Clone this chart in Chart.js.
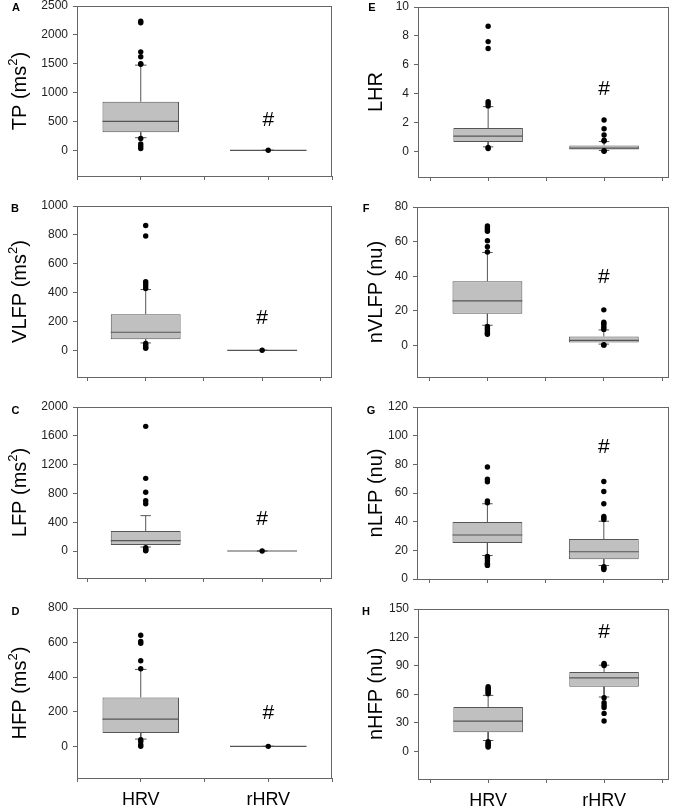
<!DOCTYPE html>
<html>
<head>
<meta charset="utf-8">
<script src="https://cdn.jsdelivr.net/npm/chart.js@4.4.0/dist/chart.umd.min.js"></script>
<style>
  body { margin: 0; background: #fff; width: 676px; height: 808px; position: relative; overflow: hidden;
         font-family: "Liberation Sans", Arial, Helvetica, sans-serif; }
  canvas { position: absolute; }
  .tag { position: absolute; width: 20px; text-align: center; font-size: 11px; line-height: 12px; font-weight: bold; color: #000; }
</style>
</head>
<body>
<script>
Chart.defaults.font.family = '"Liberation Sans", Arial, Helvetica, sans-serif';
const FONT = '"Liberation Sans", Arial, sans-serif';

const groups = ['HRV', 'rHRV'];
const groupPos = [1, 2];
const xTicks = [0.5, 1, 1.5, 2, 2.5];

// box stats per group: [lower whisker, q1, median, q3, upper whisker]
// A - TP
const tpBox = [[218, 311, 502, 841, 1476], [0, 0, 0, 0, 0]];
const tpOut = [[2237, 2210, 1706, 1620, 1500, 1490, 205, 110, 70, 30], [0]];
const tpTicks = [0, 500, 1000, 1500, 2000, 2500];
const tpRange = [-445, 2500];
const tpHash = 523;

// B - VLFP
const vlfpBox = [[51, 76, 125, 250, 421], [0, 0, 0, 0, 0]];
const vlfpOut = [[865, 792, 476, 462, 445, 428, 48, 35, 22, 14], [0]];
const vlfpTicks = [0, 200, 400, 600, 800, 1000];
const vlfpRange = [-185, 1000];
const vlfpHash = 220;

// C - LFP
const lfpBox = [[55, 83, 144, 278, 491], [0, 0, 0, 0, 0]];
const lfpOut = [[1731, 1009, 815, 699, 657, 45, 25, 10, 2], [0]];
const lfpTicks = [0, 400, 800, 1200, 1600, 2000];
const lfpRange = [-375, 2000];
const lfpHash = 435;

// D - HFP
const hfpBox = [[42, 77, 158, 283, 445], [0, 0, 0, 0, 0]];
const hfpOut = [[642, 607, 596, 495, 449, 38, 28, 10, 0], [0]];
const hfpTicks = [0, 200, 400, 600, 800];
const hfpRange = [-183, 800];
const hfpHash = 193;

// E - LHR
const lhrBox = [[0.3, 0.63, 1.05, 1.6, 3.09], [0.05, 0.12, 0.21, 0.4, 0.67]];
const lhrOut = [[8.67, 7.6, 7.12, 3.44, 3.3, 3.14, 0.26, 0.18], [2.16, 1.56, 1.12, 0.76, 0.7, 0.03, 0]];
const lhrTicks = [0, 2, 4, 6, 8, 10];
const lhrRange = [-1.79, 10];
const lhrHash = 4.3;

// F - nVLFP
const nvlfpBox = [[11.7, 18.3, 25.8, 37.1, 53.7], [0.8, 1.7, 2.9, 5.2, 9.0]];
const nvlfpOut = [[69, 68, 67, 66, 60.5, 57, 54, 11, 10, 9, 8, 7, 6.5], [20.6, 13.5, 12.8, 11.8, 10.5, 9.3, 0.5, 0.2]];
const nvlfpTicks = [0, 20, 40, 60, 80];
const nvlfpRange = [-18.2, 80];
const nvlfpHash = 39.5;

// G - nLFP
const nlfpBox = [[16.4, 25.1, 30.7, 39.7, 52.5], [9.4, 13.8, 19, 27.9, 40.3]];
const nlfpOut = [[78.1, 69.6, 67.8, 54.4, 53.2, 15.7, 14.3, 12.5, 11, 10.3, 9.5], [68, 61, 52.5, 43.6, 42.5, 41.5, 8.5, 7.5, 6.6]];
const nlfpTicks = [0, 20, 40, 60, 80, 100, 120];
const nlfpRange = [0, 120];
const nlfpHash = 91.9;

// H - nHFP
const nhfpBox = [[11.3, 20.1, 31.8, 46.6, 58.9], [57.2, 68.1, 77.3, 83.6, 90.7]];
const nhfpOut = [[68, 66.5, 65, 63.5, 62, 60.5, 10, 8.5, 7, 5.5, 4.5], [92.5, 91.5, 90.4, 56.5, 51.2, 48.4, 46, 39.9, 31.8]];
const nhfpTicks = [0, 30, 60, 90, 120, 150];
const nhfpRange = [-29.3, 150];
const nhfpHash = 125.3;

// y titles as [text, superscript, tail]
const msUnit = ['(ms', '2', ')'];

// layout of the 8 panels (frame = plot box in page px: left, top, right, bottom)
const panels = [
  { tag: 'A', title: ['TP ' + msUnit[0], msUnit[1], msUnit[2]],   box: tpBox,    out: tpOut,    ticks: tpTicks,    range: tpRange,    hash: tpHash,    col: 0, row: 0, frame: [77, 6, 332, 176],   xr: [0.5, 2.5],    tagAt: [16, 6.5] },
  { tag: 'B', title: ['VLFP ' + msUnit[0], msUnit[1], msUnit[2]], box: vlfpBox,  out: vlfpOut,  ticks: vlfpTicks,  range: vlfpRange,  hash: vlfpHash,  col: 0, row: 1, frame: [77, 206, 332, 377], xr: [0.41, 2.6],   tagAt: [15, 208] },
  { tag: 'C', title: ['LFP ' + msUnit[0], msUnit[1], msUnit[2]],  box: lfpBox,   out: lfpOut,   ticks: lfpTicks,   range: lfpRange,   hash: lfpHash,   col: 0, row: 2, frame: [77, 407, 332, 578], xr: [0.41, 2.6],   tagAt: [15.5, 410] },
  { tag: 'D', title: ['HFP ' + msUnit[0], msUnit[1], msUnit[2]],  box: hfpBox,   out: hfpOut,   ticks: hfpTicks,   range: hfpRange,   hash: hfpHash,   col: 0, row: 3, frame: [77, 608, 332, 778], xr: [0.5, 2.5],    tagAt: [15.5, 611] },
  { tag: 'E', title: ['LHR', '', ''],        box: lhrBox,   out: lhrOut,   ticks: lhrTicks,   range: lhrRange,   hash: lhrHash,   col: 1, row: 0, frame: [418, 7, 669, 177],  xr: [0.395, 2.56], tagAt: [372, 6.5] },
  { tag: 'F', title: ['nVLFP (nu)', '', ''], box: nvlfpBox, out: nvlfpOut, ticks: nvlfpTicks, range: nvlfpRange, hash: nvlfpHash, col: 1, row: 1, frame: [417, 207, 669, 377], xr: [0.395, 2.56], tagAt: [366, 208] },
  { tag: 'G', title: ['nLFP (nu)', '', ''],  box: nlfpBox,  out: nlfpOut,  ticks: nlfpTicks,  range: nlfpRange,  hash: nlfpHash,  col: 1, row: 2, frame: [417, 407, 669, 579], xr: [0.395, 2.56], tagAt: [371, 410] },
  { tag: 'H', title: ['nHFP (nu)', '', ''],  box: nhfpBox,  out: nhfpOut,  ticks: nhfpTicks,  range: nhfpRange,  hash: nhfpHash,  col: 1, row: 3, frame: [418, 609, 669, 779], xr: [0.395, 2.56], tagAt: [366, 611] }
];
const colLeft = [0, 338], colW = 338;
const rowTop = [0, 200, 400, 600], rowH = [200, 200, 200, 208];
const titleX = [19, 37];   // centre of rotated y title inside canvas

const boxHalf = 0.3, capHalf = 0.045;

// plot frame around the chart area
const framePlugin = {
  id: 'frame',
  afterDatasetsDraw(chart) {
    const a = chart.chartArea, ctx = chart.ctx;
    ctx.save();
    ctx.strokeStyle = '#666';
    ctx.lineWidth = 1;
    ctx.strokeRect(Math.round(a.left) + 0.5, Math.round(a.top) + 0.5, Math.round(a.right - a.left) - 1, Math.round(a.bottom - a.top));
    ctx.restore();
  }
};

// '#' significance mark above rHRV
const hashPlugin = {
  id: 'hashMark',
  afterDatasetsDraw(chart, args, opts) {
    const ctx = chart.ctx;
    ctx.save();
    ctx.font = '21px ' + FONT;
    ctx.fillStyle = '#000';
    ctx.textAlign = 'center';
    ctx.textBaseline = 'middle';
    ctx.fillText('#', chart.scales.x.getPixelForValue(opts.x), chart.scales.y.getPixelForValue(opts.y));
    ctx.restore();
  }
};

// rotated y title with a real superscript (ms^2)
const yTitlePlugin = {
  id: 'yTitle',
  afterDraw(chart, args, opts) {
    const ctx = chart.ctx, a = chart.chartArea;
    const [main, sup, tail] = opts.parts;
    ctx.save();
    ctx.translate(opts.x, (a.top + a.bottom) / 2);
    ctx.rotate(-Math.PI / 2);
    ctx.fillStyle = '#000';
    ctx.textBaseline = 'alphabetic';
    ctx.textAlign = 'left';
    ctx.font = '20px ' + FONT;
    const w1 = ctx.measureText(main).width, w3 = ctx.measureText(tail).width;
    ctx.font = '13px ' + FONT;
    const w2 = ctx.measureText(sup).width;
    let x = -(w1 + w2 + w3) / 2;
    const base = 7.2;
    ctx.font = '20px ' + FONT;
    ctx.fillText(main, x, base); x += w1;
    ctx.font = '13px ' + FONT;
    ctx.fillText(sup, x, base - 9.3); x += w2;
    ctx.font = '20px ' + FONT;
    ctx.fillText(tail, x, base);
    ctx.restore();
  }
};

function makePanel(p) {
  const cx = colLeft[p.col], cy = rowTop[p.row], cw = colW, ch = rowH[p.row];
  const [fl, ft, fr, fb] = p.frame;
  const bottomRow = p.row === 3;

  const cv = document.createElement('canvas');
  cv.width = cw; cv.height = ch;
  cv.style.left = cx + 'px'; cv.style.top = cy + 'px';
  document.body.appendChild(cv);

  const tag = document.createElement('div');
  tag.className = 'tag';
  tag.textContent = p.tag;
  tag.style.left = (p.tagAt[0] - 10) + 'px';
  tag.style.top = (p.tagAt[1] - 6) + 'px';
  document.body.appendChild(tag);

  const boxes = [], medians = [], whiskers = [], dots = [];
  groupPos.forEach((x, i) => {
    const b = p.box[i];
    boxes.push({ x: x, y: [b[1], b[3]] });
    medians.push({ x: x - boxHalf, y: b[2] }, { x: x + boxHalf, y: b[2] }, { x: x, y: null });
    whiskers.push(
      { x: x, y: b[3] }, { x: x, y: b[4] }, { x: x, y: null },
      { x: x, y: b[1] }, { x: x, y: b[0] }, { x: x, y: null },
      { x: x - capHalf, y: b[4] }, { x: x + capHalf, y: b[4] }, { x: x, y: null },
      { x: x - capHalf, y: b[0] }, { x: x + capHalf, y: b[0] }, { x: x, y: null }
    );
    p.out[i].forEach(v => dots.push({ x: x, y: v }));
  });

  new Chart(cv, {
    type: 'bar',
    data: {
      datasets: [
        { type: 'scatter', data: dots, pointRadius: 2.7, pointBackgroundColor: '#000', pointBorderWidth: 0, clip: false },
        { type: 'line', data: whiskers, borderColor: '#555', borderWidth: 1, pointRadius: 0, spanGaps: false, tension: 0 },
        { type: 'line', data: medians, borderColor: '#555', borderWidth: 1.2, pointRadius: 0, spanGaps: false, tension: 0 },
        { type: 'bar', data: boxes, backgroundColor: '#c0c0c0', borderColor: '#555', borderWidth: 1,
          borderSkipped: false, categoryPercentage: 1, barPercentage: 1.2 }
      ]
    },
    options: {
      responsive: false,
      animation: false,
      events: [],
      layout: { padding: { left: 0, top: ft - cy, right: cx + cw - fr, bottom: 0 } },
      plugins: {
        legend: { display: false },
        tooltip: { enabled: false },
        hashMark: { x: groupPos[1], y: p.hash },
        yTitle: { parts: p.title, x: titleX[p.col] }
      },
      scales: {
        x: {
          type: 'linear',
          min: p.xr[0], max: p.xr[1],
          offset: false,
          border: { display: false },
          grid: { offset: false, drawOnChartArea: false, drawTicks: true, tickLength: 4, color: '#666' },
          ticks: {
            autoSkip: false, maxRotation: 0, padding: 7, color: '#000',
            font: { size: 18 },
            callback: v => {
              const i = groupPos.indexOf(v);
              return bottomRow && i >= 0 ? groups[i] : '';
            }
          },
          afterBuildTicks: s => { s.ticks = xTicks.map(v => ({ value: v })); },
          afterFit: s => { s.height = cy + ch - fb; s.paddingLeft = 0; s.paddingRight = 0; }
        },
        y: {
          type: 'linear',
          min: p.range[0], max: p.range[1],
          border: { display: false },
          grid: { drawOnChartArea: false, drawTicks: true, tickLength: 4, color: '#666' },
          ticks: { autoSkip: false, padding: 5, color: '#222', font: { size: 12 }, callback: v => String(v) },
          afterBuildTicks: s => { s.ticks = p.ticks.map(v => ({ value: v })); },
          afterFit: s => { s.width = fl - cx; s.paddingTop = 0; s.paddingBottom = 0; }
        }
      }
    },
    plugins: [framePlugin, hashPlugin, yTitlePlugin]
  });
}

panels.forEach(makePanel);
</script>
</body>
</html>
